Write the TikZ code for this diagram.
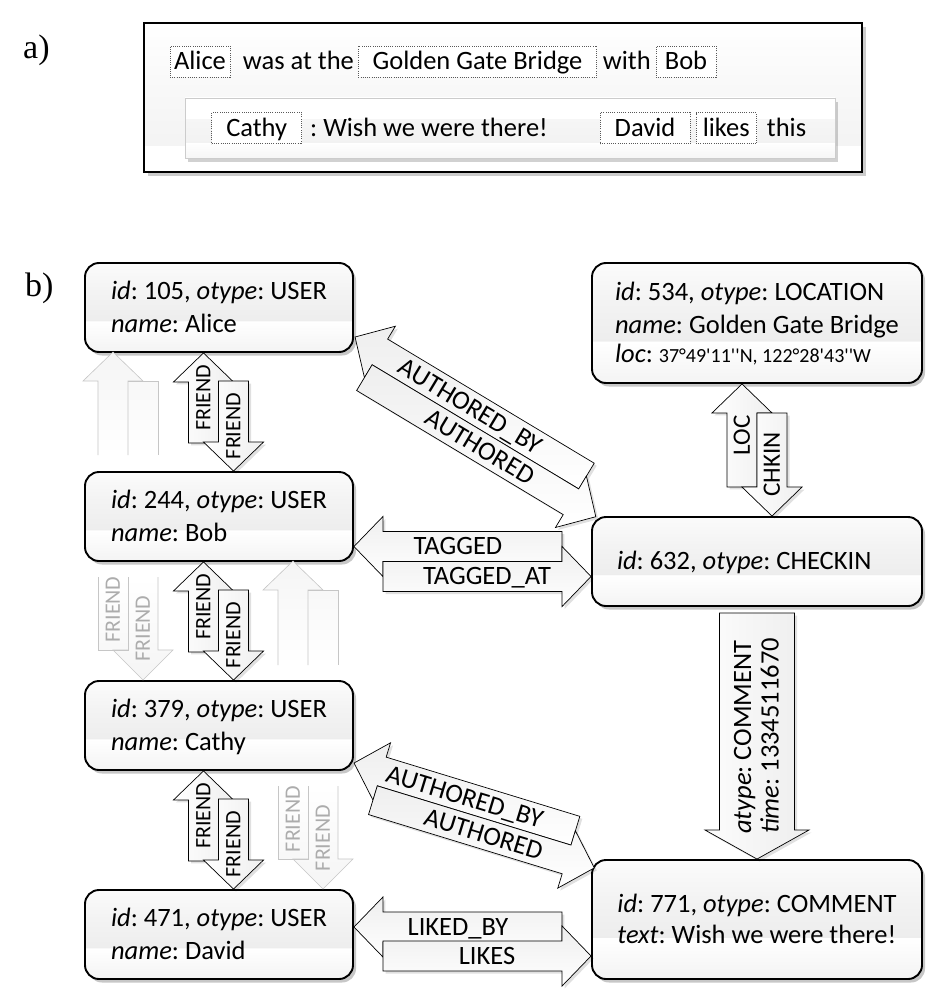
\documentclass[tikz,border=0pt]{standalone}
\usepackage{fontspec}
\setmainfont{Carlito}
\newfontfamily\carl{Carlito}
\newfontfamily\timesf{Liberation Serif}
\usetikzlibrary{calc,shadows}
\frenchspacing

\pgfdeclareverticalshading{objgloss}{100bp}{color(0bp)=(gray!9); color(25bp)=(gray!9); color(42.4bp)=(white); color(42.5bp)=(gray!14); color(60bp)=(gray!9); color(75bp)=(gray!3); color(100bp)=(gray!3)}
\pgfdeclareverticalshading{outergloss}{100bp}{color(0bp)=(white); color(25bp)=(white); color(33.9bp)=(white); color(34bp)=(gray!9); color(55bp)=(gray!5); color(75bp)=(white); color(100bp)=(white)}
\pgfdeclareverticalshading{innergloss}{100bp}{color(0bp)=(gray!7); color(25bp)=(gray!7); color(38.2bp)=(white); color(38.3bp)=(gray!10); color(58.2bp)=(gray!7); color(58.3bp)=(white); color(75bp)=(white); color(100bp)=(white)}

\newcommand\linestwo[3]{\vbox{\lineskiplimit=-100pt\baselineskip=#1\hbox{#2}\hbox{#3}}}
\newcommand\itx[1]{{\itshape #1}}

% block arrow: [path style]{label name}{tip}{body angle (screen, clockwise)}{length}{label style}{label}
\newcommand\barrow[7][]{%
  \begin{scope}[shift={#3},shift={(2.5,2.5)},rotate=-#4]
    \fill[arrshadow] (0,0) -- (29,30) -- (29,15) -- (#5,15) -- (#5,-15) -- (29,-15) -- (29,-30) -- cycle;
  \end{scope}
  \begin{scope}[shift={#3},rotate=-#4]
    \path[arr,#1] (0,0) -- (29,30) -- (29,15) -- (#5,15) -- (#5,-15) -- (29,-15) -- (29,-30) -- cycle;
    \node[#6] (#2) at ({#5/2},0) {#7};
  \end{scope}}

\begin{document}
\begin{tikzpicture}[x=1pt,y=-1pt,
  every node/.style={font=\carl},
  obj/.style={draw=black, line width=1.9pt, rounded corners=14pt, shading=objgloss,
    drop shadow={opacity=0.22, shadow xshift=3pt, shadow yshift=-3.5pt, fill=black},
    inner sep=0pt, font=\carl\fontsize{26.5}{32.5}\selectfont, text depth=0pt},
  user/.style={obj, minimum width=268pt, minimum height=89pt, text height=49.3pt},
  wbox/.style={draw=black!65, line width=0.7pt, dash pattern=on 0.8pt off 1.4pt, fill=white,
    inner sep=0pt, minimum height=31pt, text height=16.8pt, text depth=0pt,
    font=\carl\fontsize{26.5}{32}\selectfont},
  txt/.style={anchor=base west, inner sep=0pt, font=\carl\fontsize{26.5}{32}\selectfont},
  arr/.style={draw=black, line width=0.7pt, left color=white, right color=gray!13},
  arrshadow/.style={fill=black, opacity=0.12},
  harr/.style={top color=gray!13, bottom color=white},
  lab/.style={inner sep=0pt, text height=16.8pt, text depth=0pt, font=\carl\fontsize{26.5}{32}\selectfont},
  frlab/.style={inner sep=0pt, text height=13.9pt, text depth=0pt, font=\carl\fontsize{22}{26}\selectfont},
  loclab/.style={inner sep=0pt, text height=15.8pt, text depth=0pt, font=\carl\fontsize{25}{30}\selectfont},
  fadeline/.style={draw=gray!45, line width=0.6pt},
  fadetop/.style={top color=gray!8, bottom color=white},
  fadebot/.style={top color=white, bottom color=gray!8},
  fadelab/.style={frlab, text=gray!65}
]
\useasboundingbox (0,0) rectangle (944,1006);
\fill[white] (0,0) rectangle (944,1006);

% ---------------- a) ----------------
\node[anchor=base west, inner sep=0pt, font=\timesf\fontsize{34}{40}\selectfont] (la) at (23,59) {a)};
\node[draw=black, line width=1.4pt, shading=outergloss, inner sep=0pt,
      drop shadow={opacity=0.2, shadow xshift=4pt, shadow yshift=-4pt, fill=black},
      minimum width=718pt, minimum height=149pt] (sent) at (503,97.5) {};
\node[draw=gray!40, line width=0.6pt, shading=innergloss, inner sep=0pt,
      drop shadow={opacity=0.18, shadow xshift=3pt, shadow yshift=-4pt, fill=black},
      minimum width=650pt, minimum height=60pt] (comm) at (510,128) {};

\node[wbox, minimum width=60pt] (walice) at (200,61.6) {Alice};
\node[txt] (wwas) at (242.7,70) {was at the};
\node[wbox, minimum width=238.4pt] (wggb) at (477.5,61.6) {Golden Gate Bridge};
\node[txt] (wwith) at (602.7,70) {with};
\node[wbox, minimum width=60pt] (wbob) at (686,61.6) {Bob};

\node[wbox, minimum width=90pt] (wcathy) at (256.7,128.3) {Cathy};
\node[txt] (wwish) at (310,136.7) {: Wish we were there!};
\node[wbox, minimum width=90pt] (wdavid) at (645,128.3) {David};
\node[wbox, minimum width=60.7pt] (wlikes) at (726.3,128.3) {likes};
\node[txt] (wthis) at (766.7,136.7) {this};

% ---------------- b) ----------------
\node[anchor=base west, inner sep=0pt, font=\timesf\fontsize{34}{40}\selectfont] (lb) at (25,296) {b)};

\node[user] (alice) at (219,307.5) {\linestwo{32.5pt}{\itx{id}: 105, \itx{otype}: USER}{\itx{name}: Alice}};
\node[user] (bob)   at (219,516.5) {\linestwo{32.5pt}{\itx{id}: 244, \itx{otype}: USER}{\itx{name}: Bob}};
\node[user] (cathy) at (219,725.5) {\linestwo{32.5pt}{\itx{id}: 379, \itx{otype}: USER}{\itx{name}: Cathy}};
\node[user] (david) at (219,934.5) {\linestwo{32.5pt}{\itx{id}: 471, \itx{otype}: USER}{\itx{name}: David}};

\node[obj, minimum width=330pt, minimum height=120pt, text height=79.3pt] (loc) at (757,323)
  {\vbox{\lineskiplimit=-100pt\baselineskip=33pt
     \hbox{\itx{id}: 534, \itx{otype}: LOCATION}
     \hbox{\itx{name}: Golden Gate Bridge}
     \baselineskip=29.5pt
     \hbox{\itx{loc}: {\fontsize{20}{24}\selectfont 37°49'11''N, 122°28'43''W}}}};
\node[obj, minimum width=330pt, minimum height=89pt, text height=16.8pt] (chk) at (757,561.5)
  {\makebox[280pt][l]{\itx{id}: 632, \itx{otype}: CHECKIN}};
\node[obj, minimum width=330pt, minimum height=119pt, text height=47.8pt] (com) at (757,919.5)
  {\linestwo{31pt}{\itx{id}: 771, \itx{otype}: COMMENT}{\itx{text}: Wish we were there!}};

% ---- faded FRIEND pair Alice -- Cathy (behind Bob)
\path[fadetop] (98,455) -- (98,381) -- (83,381) -- (113,352) -- (143,381) -- (158,381) -- (158,455) -- cycle;
\draw[fadeline] (98,455) -- (98,381) -- (83,381) -- (113,352) -- (143,381) -- (128,381) -- (128,455);
\draw[fadeline] (128,381) -- (158,381) -- (158,455);
\path[fadebot] (98,577) -- (98,650) -- (113,650) -- (143,680) -- (173,650) -- (158,650) -- (158,577) -- cycle;
\draw[fadeline] (98,577) -- (98,650) -- (128,650) -- (128,577);
\draw[fadeline] (158,577) -- (158,650) -- (173,650) -- (143,680) -- (113,650) -- (128,650);
\node[fadelab, rotate=90] (fac1) at (113,609.5) {FRIEND};
\node[fadelab, rotate=90] (fac2) at (143,628.5) {FRIEND};

% ---- faded FRIEND pair Bob -- David (behind Cathy)
\path[fadetop] (278,665) -- (278,590) -- (263,590) -- (293,561) -- (323,590) -- (338,590) -- (338,665) -- cycle;
\draw[fadeline] (278,665) -- (278,590) -- (263,590) -- (293,561) -- (323,590) -- (308,590) -- (308,665);
\draw[fadeline] (308,590) -- (338,590) -- (338,665);
\path[fadebot] (278,786) -- (278,859) -- (293,859) -- (323,889) -- (353,859) -- (338,859) -- (338,786) -- cycle;
\draw[fadeline] (278,786) -- (278,859) -- (308,859) -- (308,786);
\draw[fadeline] (338,786) -- (338,859) -- (353,859) -- (323,889) -- (293,859) -- (308,859);
\node[fadelab, rotate=90] (fbd1) at (293,819) {FRIEND};
\node[fadelab, rotate=90] (fbd2) at (323,838) {FRIEND};

% ---- FRIEND pairs
\coordinate (ab1) at ($(alice.south)+(-15.5,0)$);
\coordinate (ab2) at ($(bob.north)+(14.5,0)$);
\barrow{lab1}{(ab1)}{90}{90}{frlab,rotate=90}{FRIEND}
\barrow{lab2}{(ab2)}{270}{90}{frlab,rotate=90}{FRIEND}
\coordinate (bc1) at ($(bob.south)+(-15.5,0)$);
\coordinate (bc2) at ($(cathy.north)+(14.5,0)$);
\barrow{lbc1}{(bc1)}{90}{90}{frlab,rotate=90}{FRIEND}
\barrow{lbc2}{(bc2)}{270}{90}{frlab,rotate=90}{FRIEND}
\coordinate (cd1) at ($(cathy.south)+(-15.5,0)$);
\coordinate (cd2) at ($(david.north)+(14.5,0)$);
\barrow{lcd1}{(cd1)}{90}{90}{frlab,rotate=90}{FRIEND}
\barrow{lcd2}{(cd2)}{270}{90}{frlab,rotate=90}{FRIEND}

% ---- LOC / CHKIN
\coordinate (lc1) at ($(loc.south)+(-15,0)$);
\coordinate (lc2) at ($(chk.north)+(15,0)$);
\barrow{llc1}{(lc1)}{90}{103}{loclab,rotate=90}{LOC}
\barrow{llc2}{(lc2)}{270}{103}{loclab,rotate=90}{CHKIN}

% ---- AUTHORED (Alice -- Checkin)
\coordinate (au1) at ($(alice.east)+(1.1,29.5)$);
\coordinate (au2) at (595.8,516.7);
\barrow[harr]{lau1}{(au1)}{31}{270}{lab,rotate=-31}{AUTHORED\_BY}
\barrow[harr]{lau2}{(au2)}{211}{270}{lab,rotate=-31}{AUTHORED}

% ---- TAGGED (Bob -- Checkin)
\coordinate (tg1) at ($(bob.east)+(0,30)$);
\coordinate (tg2) at ($(chk.west)+(0,15)$);
\barrow[harr]{ltg1}{(tg1)}{0}{208}{lab}{TAGGED}
\barrow[harr]{ltg2}{(tg2)}{180}{208}{lab}{TAGGED\_AT}

% ---- AUTHORED (Cathy -- Comment)
\coordinate (ac1) at ($(cathy.east)+(0.1,37.5)$);
\coordinate (ac2) at (594.3,867.9);
\barrow[harr]{lac1}{(ac1)}{17}{231.5}{lab,rotate=-17}{AUTHORED\_BY}
\barrow[harr]{lac2}{(ac2)}{197}{231.5}{lab,rotate=-17}{AUTHORED}

% ---- LIKED_BY (David -- Comment)
\coordinate (lk1) at ($(david.east)+(0,-7.5)$);
\coordinate (lk2) at ($(com.west)+(0,36.5)$);
\barrow[harr]{llk1}{(lk1)}{0}{208}{lab}{LIKED\_BY}
\barrow[harr]{llk2}{(lk2)}{180}{208}{lab}{LIKES}

% ---- Checkin -> Comment (COMMENT action)
\fill[arrshadow] ($(com.north)+(2.5,2.5)$) -- (811.5,832.5) -- (797,832.5) -- (797,615.5) -- (722,615.5) -- (722,832.5) -- (707.5,832.5) -- cycle;
\path[arr, left color=gray!2, right color=gray!14]
  (com.north) -- (809,830) -- (794.5,830) -- (794.5,613) -- (719.5,613) -- (719.5,830) -- (705,830) -- cycle;
\node[lab, rotate=90, text height=44.4pt] (cmlab) at (756.5,736)
  {\linestwo{27.6pt}{\itx{atype}: COMMENT}{\itx{time}: 1334511670}};
\end{tikzpicture}
\end{document}
